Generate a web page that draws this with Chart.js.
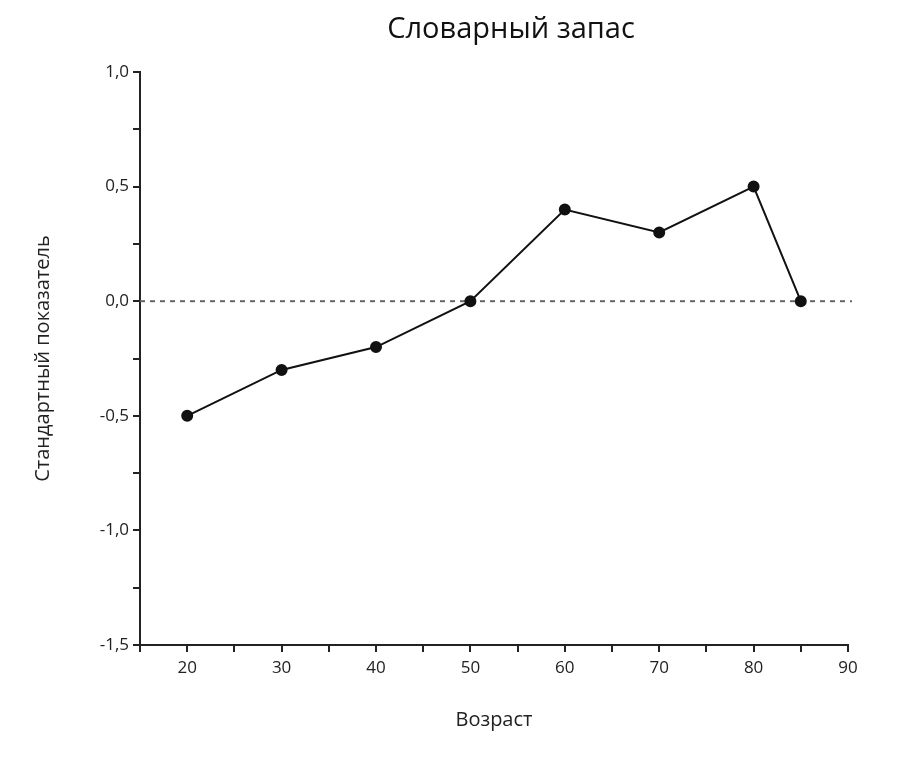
<!DOCTYPE html>
<html>
<head>
<meta charset="utf-8">
<script src="https://cdn.jsdelivr.net/npm/chart.js@4"></script>
<style>
  body { margin: 0; background: #fff; }
  #wrap { width: 900px; height: 764px; }
</style>
</head>
<body>
<div id="wrap"><canvas id="chart"></canvas></div>
<script>
// Data
const ages   = [20, 30, 40, 50, 60, 70, 80, 85];
const scores = [-0.5, -0.3, -0.2, 0, 0.4, 0.3, 0.5, 0];
const xTicks = [15, 20, 25, 30, 35, 40, 45, 50, 55, 60, 65, 70, 75, 80, 85, 90];
const yTicks = [-1.5, -1.25, -1, -0.75, -0.5, -0.25, 0, 0.25, 0.5, 0.75, 1];

const fmt = v => v.toFixed(1).replace('.', ',');
const FONT = '"Open Sans", "DejaVu Sans", sans-serif';

// Title + dashed zero line
const extras = {
  id: 'extras',
  beforeDatasetsDraw(c) {
    const { ctx, chartArea: a, scales } = c;
    const y0 = scales.y.getPixelForValue(0);
    ctx.save();
    ctx.strokeStyle = '#666';
    ctx.lineWidth = 2;
    ctx.setLineDash([5, 5]);
    ctx.beginPath();
    ctx.moveTo(a.left, y0);
    ctx.lineTo(a.right + 4, y0);
    ctx.stroke();
    ctx.restore();
  },
  afterDraw(c) {
    const { ctx } = c;
    ctx.save();
    ctx.fillStyle = '#111';
    ctx.font = '29px ' + FONT;
    ctx.textAlign = 'center';
    ctx.textBaseline = 'middle';
    ctx.fillText('Словарный запас', 511, 30);
    ctx.restore();
  }
};

new Chart(document.getElementById('chart'), {
  type: 'line',
  data: {
    datasets: [{
      data: ages.map((a, i) => ({ x: a, y: scores[i] })),
      borderColor: '#111',
      backgroundColor: '#111',
      borderWidth: 2,
      pointRadius: 5,
      tension: 0
    }]
  },
  options: {
    responsive: true,
    maintainAspectRatio: false,
    animation: false,
    layout: { padding: { top: 72, right: 52, left: 27, bottom: 28 } },
    plugins: { legend: { display: false }, tooltip: { enabled: false } },
    scales: {
      x: {
        type: 'linear', min: 15, max: 90,
        afterBuildTicks: s => { s.ticks = xTicks.map(v => ({ value: v })); },
        afterFit: s => { s.height = 91; },
        grid: { drawOnChartArea: false, color: '#222', tickLength: 7, lineWidth: 2 },
        border: { color: '#222', width: 2 },
        ticks: {
          color: '#222', font: { size: 17, family: FONT }, padding: 6, autoSkip: false, maxRotation: 0,
          callback: v => (v % 10 === 0 && v >= 20) ? String(v) : ''
        },
        title: { display: true, text: 'Возраст', color: '#222', font: { size: 20, family: FONT }, padding: { top: 14 } }
      },
      y: {
        type: 'linear', min: -1.5, max: 1,
        afterBuildTicks: s => { s.ticks = yTicks.map(v => ({ value: v })); },
        afterFit: s => { s.width = 113; },
        grid: { drawOnChartArea: false, color: '#222', tickLength: 7, lineWidth: 2 },
        border: { color: '#222', width: 2 },
        ticks: {
          color: '#222', font: { size: 17, family: FONT }, padding: 4, autoSkip: false,
          callback: v => (Math.abs(v * 2 - Math.round(v * 2)) < 1e-9) ? fmt(v) : ''
        },
        title: { display: true, text: 'Стандартный показатель', color: '#222', font: { size: 20, family: FONT }, padding: { bottom: 10 } }
      }
    }
  },
  plugins: [extras]
});
</script>
</body>
</html>
